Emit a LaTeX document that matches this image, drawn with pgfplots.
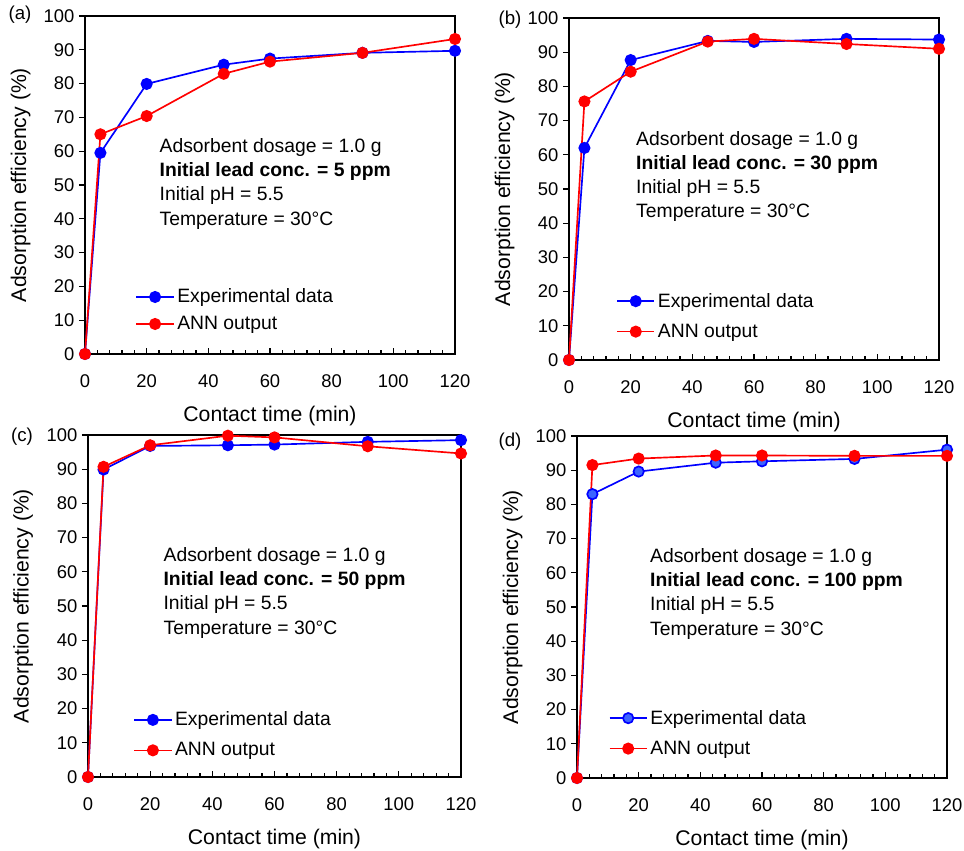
\documentclass[border=0pt]{standalone}
\usepackage{fontspec}
\setmainfont{Liberation Sans}
\usepackage{pgfplots}
\pgfplotsset{compat=1.18}
\definecolor{expblue}{RGB}{0,0,255}
\definecolor{annred}{RGB}{255,0,0}
\definecolor{expfill}{RGB}{60,100,255}

\pgfplotsset{
 panel/.style={
  scale only axis, width=279pt, height=256pt,
  xmin=0,xmax=120,ymin=0,ymax=100,
  xtick={0,20,...,120}, ytick={0,10,...,100},
  minor x tick num=4,
  xtick pos=bottom, ytick pos=left,
  xtick align=inside, ytick align=outside,
  major tick length=4.5pt, minor tick length=3pt,
  axis line style={line width=1pt},
  every tick/.style={black, line width=0.9pt},
  /pgf/number format/assume math mode=true,
  tick label style={font=\fontsize{13.8}{16}\selectfont},
  xticklabel style={yshift=-12pt},
  label style={font=\fontsize{15.9}{19}\selectfont},
  xlabel={Contact time (min)}, ylabel={Adsorption efficiency (\%)},
  xlabel style={at={(axis description cs:0.5,-0.182)},anchor=center},
  ylabel style={at={(axis description cs:-0.174,0.5)},anchor=center},
  clip=false,
  legend cell align=left,
  legend style={draw=none, fill=none, font=\fontsize{14.5}{17}\selectfont, anchor=north west, inner sep=0pt, nodes={inner sep=2pt}},
  legend image code/.code={\draw[mark repeat=2, mark phase=2] plot coordinates {(0pt,0pt) (14pt,0pt) (28pt,0pt)};},
 },
 exp/.style={expblue, line width=1.25pt, mark=*, mark size=3.9pt, mark options={solid, fill=expblue}},
 ann/.style={annred, line width=1.25pt, mark=*, mark size=3.9pt, mark options={solid, fill=annred}},
}
\newcommand{\annot}[1]{Adsorbent dosage = 1.0 g\\ \textbf{Initial lead conc. = #1 ppm}\\ Initial pH = 5.5\\ Temperature = 30°C}
\tikzset{annot/.style={anchor=north west, inner sep=0pt, align=left, font=\fontsize{14.5}{18.2}\selectfont},
 plabel/.style={font=\fontsize{14}{16}\selectfont, inner sep=0pt}}

\begin{document}
\begin{tikzpicture}
\useasboundingbox (0,0) rectangle (723pt,637.5pt);

% (a)
\begin{axis}[panel, at={(63.75pt,372pt)}, anchor=south west, width=277.5pt, height=253.5pt,
  legend style={at={(0.136,0.201)}, /tikz/row sep=4.5pt}]
\addplot[exp] coordinates {(0,0) (5,59.5) (20,79.9) (45,85.6) (60,87.4) (90,89.1) (120,89.7)};
\addlegendentry{Experimental data}
\addplot[ann] coordinates {(0,0) (5,65.0) (20,70.4) (45,82.9) (60,86.5) (90,89.1) (120,93.2)};
\addlegendentry{ANN output}
\node[annot] at (rel axis cs:0.201,0.639) {\annot{5}};
\end{axis}

% (b)
\begin{axis}[panel, at={(426.75pt,367.5pt)}, anchor=south west, width=277.5pt, height=256.5pt,
  legend style={at={(0.127,0.204)}, /tikz/row sep=7.1pt}]
\addplot[exp] coordinates {(0,0) (5,62.0) (20,87.7) (45,93.3) (60,93.0) (90,93.9) (120,93.7)};
\addlegendentry{Experimental data}
\addplot[ann] coordinates {(0,0) (5,75.6) (20,84.3) (45,93.1) (60,93.9) (90,92.4) (120,91.0)};
\addlegendentry{ANN output}
\node[annot] at (rel axis cs:0.181,0.670) {\annot{30}};
\end{axis}

% (c)
\begin{axis}[panel, at={(66pt,54.75pt)}, anchor=south west, width=279.75pt, height=256.5pt,
  legend style={at={(0.121,0.199)}, /tikz/row sep=7.1pt}]
\addplot[exp] coordinates {(0,0) (5,89.9) (20,96.8) (45,97.0) (60,97.2) (90,98.0) (120,98.5)};
\addlegendentry{Experimental data}
\addplot[ann] coordinates {(0,0) (5,90.7) (20,97.0) (45,99.8) (60,99.3) (90,96.7) (120,94.6)};
\addlegendentry{ANN output}
\node[annot] at (rel axis cs:0.202,0.672) {\annot{50}};
\end{axis}

% (d)
\begin{axis}[panel, at={(432.75pt,54pt)}, anchor=south west, width=277.5pt, height=256.5pt,
  legend style={at={(0.085,0.207)}, /tikz/row sep=7.1pt}]
\addplot[exp, mark options={solid, fill=expfill, draw=expblue}] coordinates {(0,0) (5,83.0) (20,89.6) (45,92.2) (60,92.6) (90,93.3) (120,96.0)};
\addlegendentry{Experimental data}
\addplot[ann] coordinates {(0,0) (5,91.5) (20,93.4) (45,94.3) (60,94.3) (90,94.2) (120,94.2)};
\addlegendentry{ANN output}
\node[annot] at (rel axis cs:0.197,0.672) {\annot{100}};
\end{axis}

\node[plabel] at (15pt,626.25pt) {(a)};
\node[plabel] at (382.5pt,622.5pt) {(b)};
\node[plabel] at (16.5pt,309.75pt) {(c)};
\node[plabel] at (382.5pt,306pt) {(d)};
\end{tikzpicture}
\end{document}
